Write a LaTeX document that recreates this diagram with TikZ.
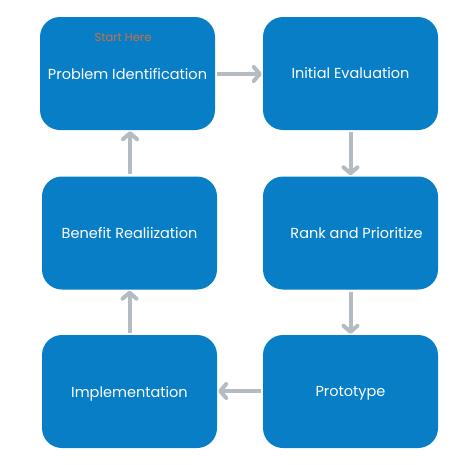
\documentclass[tikz,border=0pt]{standalone}
\usepackage{fontspec}
\setmainfont{Poppins}
\usetikzlibrary{arrows.meta}
\definecolor{boxblue}{RGB}{8,126,198}
\definecolor{arrowgray}{RGB}{180,187,194}
\definecolor{startorange}{RGB}{206,112,62}

\begin{document}
\begin{tikzpicture}
      [x=1pt, y=-1pt,
       box/.style={fill=boxblue, rounded corners=20pt, minimum width=175pt,
         minimum height=113pt, inner sep=0pt, text=white, text depth=0pt,
         font=\fontsize{14.5}{17}\selectfont},
       link/.style={draw=arrowgray, line width=4pt, shorten <=2pt, shorten >=1pt,
         -{Straight Barb[length=6pt, width=14pt, round]}}]
      \useasboundingbox (0,0) rectangle (474,464);
      \node[box](1) at (127.5, 73.5) {Problem Identification};
      \node[box](2) at (350.5, 73.5) {\raisebox{2pt}{Initial Evaluation}};
      \node[box](3) at (350.5, 233) {\hspace{12pt}Rank and Prioritize};
      \node[box](4) at (350.5, 391.5) {Prototype};
      \node[box](5) at (129.5, 391.5) {Implementation};
      \node[box](6) at (129.5, 233) {Benefit Realiization};
      \node[text=startorange, font=\fontsize{11.5}{13}\selectfont](0) at (123, 37) {Start Here};
      \draw[link](1.east |- 0,74) -- (2.west |- 0,74);
      \draw[link](2) -- (3);
      \draw[link](3) -- (4);
      \draw[link](4.west |- 0,391) -- (5.east |- 0,391);
      \draw[link](5) -- (6);
      \draw[link](6.north -| 130,0) -- (1.south -| 130,0);
  \end{tikzpicture}
\end{document}
